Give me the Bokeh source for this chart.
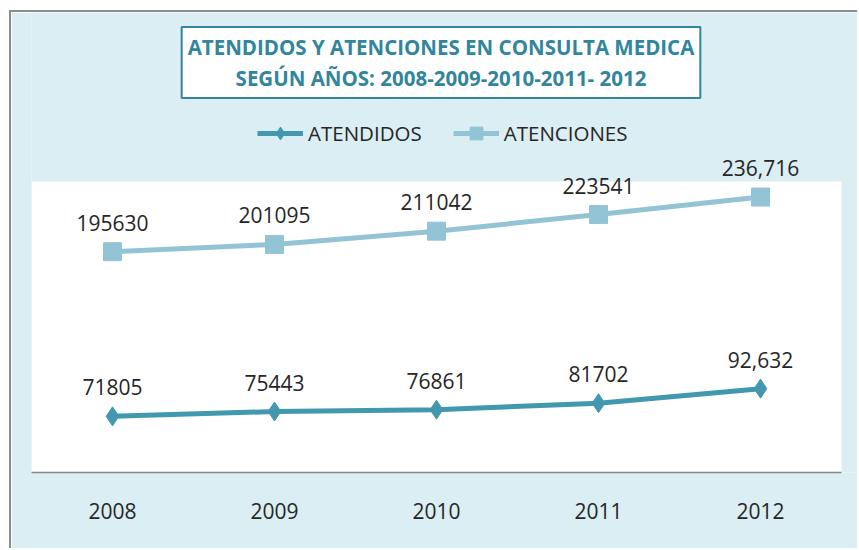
from bokeh.plotting import figure
from bokeh.models import (Label, Legend, LegendItem, Range1d, ColumnDataSource,
                          BoxAnnotation, FixedTicker)
from bokeh.core.properties import value
from bokeh.embed import file_html
from bokeh.resources import INLINE

# ---- data ----
years = [2008, 2009, 2010, 2011, 2012]
atendidos = [71805, 75443, 76861, 81702, 92632]
atenciones = [195630, 201095, 211042, 223541, 236716]
atendidos_labels = ["71805", "75443", "76861", "81702", "92,632"]
atenciones_labels = ["195630", "201095", "211042", "223541", "236,716"]
series_names = ["ATENDIDOS", "ATENCIONES"]
title_lines = ["ATENDIDOS Y ATENCIONES EN CONSULTA MEDICA",
               "SEGÚN AÑOS: 2008-2009-2010-2011- 2012"]

# ---- styling / layout ----
FONT = "Open Sans"
BG = "#DAEEF3"
C_ATD = "#4198AF"
C_ATC = "#93C4D6"
TITLE_C = "#31859C"
TXT = "#262626"

W, H = 848, 538
FL = 20                 # frame left border
FRAME_H = 460           # frame spans header + plot area
PX_PER_YEAR = 162.0
X0 = years[0] - 0.5                 # left edge of white plot area
X_AREA_END = years[-1] + 0.5        # right edge of white plot area
X1 = X_AREA_END + (W - FL - 810) / PX_PER_YEAR  # frame extends to the right edge
Y0 = 29600                          # value at plot-area bottom
AREA_TOP = 248400                   # value at plot-area top
UNITS_PER_PX = (AREA_TOP - Y0) / 291.0
Y1 = Y0 + FRAME_H * UNITS_PER_PX

src = ColumnDataSource(dict(year=years, atd=atendidos, atc=atenciones,
                            atd_lbl=atendidos_labels, atc_lbl=atenciones_labels))

p = figure(x_range=Range1d(X0, X1), y_range=Range1d(Y0, Y1), width=W, height=H,
           output_backend="svg", toolbar_location=None, y_axis_location=None,
           min_border_left=FL, min_border_right=0, min_border_top=0,
           min_border_bottom=H - FRAME_H,
           background_fill_color=BG, border_fill_color=BG, outline_line_color=None,
           styles={"border-left": "2px solid #8C8C8C", "border-top": "2px solid #8C8C8C",
                   "margin-left": "9px", "margin-top": "10px"})
p.title.visible = False
p.xgrid.visible = False
p.ygrid.visible = False

# white plot area
p.add_layout(BoxAnnotation(top=AREA_TOP, right=X_AREA_END, fill_color="white",
                           fill_alpha=1, line_alpha=0, level="underlay"))

l1 = p.line("year", "atd", source=src, line_color=C_ATD, line_width=5)
m1 = p.scatter("year", "atd", source=src, marker="diamond", size=19,
               fill_color=C_ATD, line_color=C_ATD)
l2 = p.line("year", "atc", source=src, line_color=C_ATC, line_width=5)
m2 = p.scatter("year", "atc", source=src, marker="square", size=18,
               fill_color=C_ATC, line_color=C_ATC)

for col, lbl in (("atd", "atd_lbl"), ("atc", "atc_lbl")):
    p.text("year", col, text=lbl, source=src, y_offset=-29,
           text_align="center", text_baseline="middle",
           text_font=value(FONT), text_font_size="21px", text_color=TXT)

ax = p.xaxis[0]
ax.ticker = FixedTicker(ticks=years)
ax.bounds = (X0, X_AREA_END)
ax.axis_line_color = "#868686"
ax.axis_line_width = 1.5
ax.major_tick_line_color = None
ax.minor_tick_line_color = None
ax.major_label_standoff = 24
ax.major_label_text_font = FONT
ax.major_label_text_font_size = "21px"
ax.major_label_text_color = TXT

legend = Legend(items=[LegendItem(label=series_names[0], renderers=[l1, m1]),
                       LegendItem(label=series_names[1], renderers=[l2, m2])],
                orientation="horizontal", location=(226, 323),
                glyph_width=46, glyph_height=32, label_height=32,
                label_standoff=5, spacing=31, padding=0, margin=0,
                border_line_color=None, background_fill_alpha=0,
                label_text_font=FONT, label_text_font_size="20.5px",
                label_text_color=TXT)
p.add_layout(legend, "center")

title = Label(x=409.5, y=410, x_units="screen", y_units="screen",
              text="\n".join(title_lines), text_align="center", text_baseline="middle",
              text_font=FONT, text_font_style="bold", text_font_size="20.5px",
              text_color=TITLE_C, text_line_height=1.1,
              border_line_color=TITLE_C, border_line_width=2,
              background_fill_color="white", padding=6)
p.add_layout(title)

open("out.html", "w").write(file_html(p, INLINE))
